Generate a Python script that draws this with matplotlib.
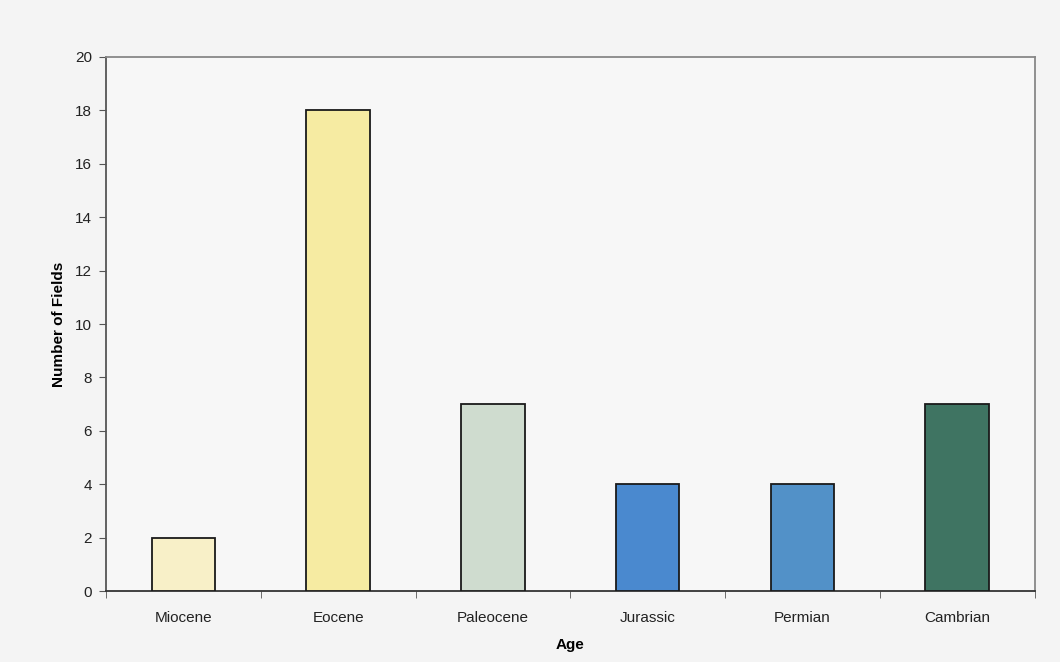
import numpy as np
import matplotlib.pyplot as plt

plt.rcParams['font.family'] = ['Liberation Sans', 'DejaVu Sans']

ages = ['Miocene', 'Eocene', 'Paleocene', 'Jurassic', 'Permian', 'Cambrian']
fields = [2, 18, 7, 4, 4, 7]
colors = ['#f8f0c8', '#f6eba2', '#cfdccf', '#4a89cf', '#5291c8', '#3f7462']

fig = plt.figure(figsize=(10.6, 6.62), dpi=100, facecolor='#f4f4f4')
ax = fig.add_axes([0.1, 0.107, 0.876, 0.807])
ax.set_facecolor('#f7f7f7')

x = np.arange(len(ages))
ax.bar(x, fields, width=0.41, color=colors, edgecolor='#1a1a1a', linewidth=1.3, zorder=3)

ax.set_xlim(-0.5, len(ages) - 0.5)
ax.set_ylim(0, 20)
ax.set_yticks(range(0, 21, 2))
ax.set_xticks(x)
ax.set_xticklabels(ages)
ax.set_xticks(np.arange(-0.5, len(ages), 1), minor=True)
ax.tick_params(axis='x', which='major', length=0, pad=14, labelsize=11, colors='#222222')
ax.tick_params(axis='x', which='minor', length=5, direction='out', color='#555555')
ax.tick_params(axis='y', length=5, direction='out', pad=5, color='#555555', labelsize=11, labelcolor='#222222')

for s in ['top', 'right']:
    ax.spines[s].set_color('#888888')
    ax.spines[s].set_linewidth(1.3)
ax.spines['left'].set_color('#555555')
ax.spines['bottom'].set_color('#333333')
ax.spines['left'].set_linewidth(1.3)
ax.spines['bottom'].set_linewidth(1.3)

ax.set_ylabel('Number of Fields', fontsize=11, fontweight='bold')
ax.set_xlabel('Age', fontsize=11, fontweight='bold', labelpad=10)
ax.yaxis.set_label_coords(-0.043, 0.5)

fig.savefig('out.png', dpi=100, facecolor=fig.get_facecolor())
